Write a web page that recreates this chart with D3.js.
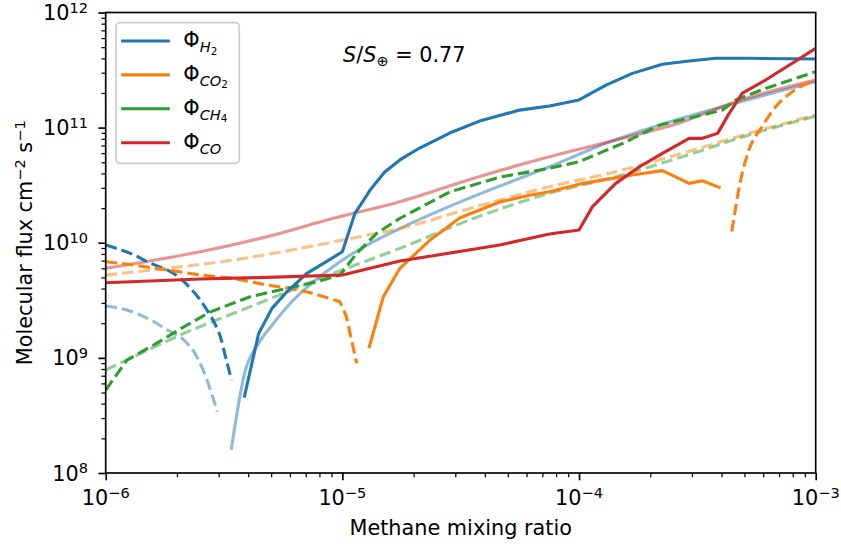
<!DOCTYPE html>
<html><head><meta charset="utf-8">
<script src="https://cdn.jsdelivr.net/npm/d3@7"></script>
<style>
body{margin:0;background:#fff}
svg{display:block}
text{font-family:"DejaVu Sans",sans-serif;fill:#000}
</style>
</head><body>
<svg id="c" width="841" height="550"></svg>
<script>
// ---------- tick labels ----------
const xTicks = [1e-6, 1e-5, 1e-4, 1e-3];
const xTickExp = ["−6", "−5", "−4", "−3"];
const yTicks = [1e8, 1e9, 1e10, 1e11, 1e12];
const yTickExp = ["8", "9", "10", "11", "12"];
const xLabel = "Methane mixing ratio";
const legendNames = [["H", "2"], ["CO", "2"], ["CH", "4"], ["CO", ""]];
const annotation = "0.77";

// ---------- data (methane mixing ratio, molecular flux) ----------
// H2 main (solid)
const h2MainX = [3.86e-6, 4.43e-6, 5.04e-6, 5.83e-6, 7.08e-6, 8.87e-6, 1.0e-5, 1.13e-5, 1.23e-5, 1.31e-5, 1.51e-5, 1.75e-5, 2.12e-5, 2.84e-5, 3.80e-5, 5.61e-5, 7.50e-5, 1.0e-4, 1.30e-4, 1.68e-4, 2.25e-4, 2.92e-4, 3.78e-4, 5.2e-4, 1.0e-3];
const h2MainY = [4.66e8, 1.63e9, 2.69e9, 3.75e9, 5.42e9, 7.18e9, 8.36e9, 1.80e10, 2.35e10, 2.87e10, 4.11e10, 5.24e10, 6.65e10, 8.97e10, 1.14e11, 1.42e11, 1.54e11, 1.74e11, 2.34e11, 2.96e11, 3.55e11, 3.79e11, 4.0e11, 4.0e11, 3.95e11];
// H2 dashed
const h2DashX = [1e-6, 1.32e-6, 1.55e-6, 1.82e-6, 2.07e-6, 2.28e-6, 2.51e-6, 2.68e-6, 2.91e-6, 3.05e-6, 3.21e-6, 3.40e-6];
const h2DashY = [9.55e9, 7.82e9, 6.62e9, 5.80e9, 4.91e9, 4.02e9, 3.18e9, 2.60e9, 1.93e9, 1.53e9, 1.02e9, 6.41e8];
// H2 light solid
const h2LightX = [3.40e-6, 3.86e-6, 4.43e-6, 5.12e-6, 6.21e-6, 7.55e-6, 9.77e-6, 1.27e-5, 1.75e-5, 3.62e-5, 7.50e-5, 1.30e-4, 2.18e-4, 4.04e-4, 1e-3];
const h2LightY = [1.64e8, 7.33e8, 1.34e9, 2.0e9, 3.18e9, 4.58e9, 6.84e9, 9.55e9, 1.33e10, 2.55e10, 4.57e10, 7.31e10, 1.05e11, 1.52e11, 2.5e11];
// H2 light dashed
const h2LightDashX = [1e-6, 1.23e-6, 1.55e-6, 1.82e-6, 2.14e-6, 2.43e-6, 2.68e-6, 2.96e-6];
const h2LightDashY = [2.82e9, 2.60e9, 2.13e9, 1.75e9, 1.43e9, 1.02e9, 6.41e8, 3.40e8];

// CO2 dashed (low methane)
const co2DashX = [1e-6, 1.32e-6, 1.82e-6, 2.51e-6, 3.47e-6, 4.80e-6, 6.02e-6, 7.55e-6, 9.77e-6, 1.04e-5, 1.15e-5];
const co2DashY = [6.84e9, 6.40e9, 5.80e9, 5.24e9, 4.91e9, 4.29e9, 4.02e9, 3.63e9, 3.07e9, 2.28e9, 8.96e8];
// CO2 solid
const co2MainX = [1.30e-5, 1.49e-5, 1.75e-5, 2.34e-5, 3.13e-5, 4.62e-5, 6.18e-5, 7.50e-5, 1.04e-4, 1.68e-4, 2.25e-4, 2.92e-4, 3.32e-4, 3.91e-4];
const co2MainY = [1.25e9, 3.40e9, 6.0e9, 1.05e10, 1.64e10, 2.26e10, 2.59e10, 2.77e10, 3.28e10, 3.87e10, 4.23e10, 3.28e10, 3.46e10, 3.03e10];
// CO2 dashed (high methane)
const co2Dash2X = [4.42e-4, 4.82e-4, 5.22e-4, 5.94e-4, 6.77e-4, 7.96e-4, 1e-3];
const co2Dash2Y = [1.25e10, 3.51e10, 6.38e10, 1.02e11, 1.52e11, 2.05e11, 2.59e11];
// CO2 light dashed
const co2LightDashX = [1e-6, 1.82e-6, 3.47e-6, 6.64e-6, 1.08e-5, 1.75e-5, 3.62e-5, 7.50e-5, 1.43e-4, 2.73e-4, 5.22e-4, 1e-3];
const co2LightDashY = [5.24e9, 6.0e9, 7.08e9, 8.94e9, 1.09e10, 1.33e10, 2.04e10, 3.07e10, 4.14e10, 5.98e10, 8.91e10, 1.29e11];

// CH4 dashed
const ch4DashX = [1e-6, 1.23e-6, 1.55e-6, 2.14e-6, 2.77e-6, 4.08e-6, 5.83e-6, 7.80e-6, 9.77e-6, 1.15e-5, 1.40e-5, 1.75e-5, 2.84e-5, 4.62e-5, 7.50e-5, 1.0e-4, 1.53e-4, 2.18e-4, 4.04e-4, 4.59e-4, 6.14e-4, 1e-3];
const ch4DashY = [5.25e8, 9.57e8, 1.25e9, 1.86e9, 2.51e9, 3.40e9, 4.02e9, 4.58e9, 5.24e9, 8.09e9, 1.21e10, 1.63e10, 2.76e10, 3.72e10, 4.43e10, 5.06e10, 7.30e10, 1.05e11, 1.42e11, 1.74e11, 2.19e11, 3.06e11];
// CH4 light dashed
const ch4LightDashX = [1e-6, 1.40e-6, 2.14e-6, 3.47e-6, 5.64e-6, 9.16e-6, 1.75e-5, 3.62e-5, 7.50e-5, 1.43e-4, 2.73e-4, 5.22e-4, 1e-3];
const ch4LightDashY = [7.84e8, 1.09e9, 1.63e9, 2.44e9, 3.63e9, 5.42e9, 8.94e9, 1.64e10, 2.69e10, 3.74e10, 5.58e10, 8.63e10, 1.26e11];

// CO solid
const coMainX = [1e-6, 2.51e-6, 4.80e-6, 1e-5, 1.75e-5, 4.62e-5, 7.50e-5, 1e-4, 1.14e-4, 1.43e-4, 1.80e-4, 2.25e-4, 2.92e-4, 3.32e-4, 3.85e-4, 4.31e-4, 4.90e-4, 6.14e-4, 7.96e-4, 1e-3];
const coMainY = [4.50e9, 4.84e9, 5.0e9, 5.24e9, 6.93e9, 9.55e9, 1.19e10, 1.29e10, 2.06e10, 3.28e10, 4.57e10, 5.98e10, 8.07e10, 8.07e10, 8.91e10, 1.33e11, 1.99e11, 2.59e11, 3.62e11, 4.89e11];
// CO light solid
const coLightX = [1e-6, 2.51e-6, 4.80e-6, 9.16e-6, 1.75e-5, 3.62e-5, 7.50e-5, 1.43e-4, 2.73e-4, 4.59e-4, 1e-3];
const coLightY = [6.0e9, 8.36e9, 1.13e10, 1.63e10, 2.27e10, 3.65e10, 5.58e10, 7.80e10, 1.12e11, 1.68e11, 2.59e11];

// ---------- layout ----------
const L = 105.7, R = 815.7, T = 12.5, B = 473;
const FS = 20.8;
const colors = {H2: "#1f77b4", CO2: "#ff7f0e", CH4: "#2ca02c", CO: "#d62728"};
const svg = d3.select("#c");
const x = d3.scaleLog().domain([1e-6, 1e-3]).range([L, R]);
const y = d3.scaleLog().domain([1e8, 1e12]).range([B, T]);

svg.append("defs").append("clipPath").attr("id", "clip")
  .append("rect").attr("x", L).attr("y", T).attr("width", R - L).attr("height", B - T);

const smooth = d3.curveMonotoneX, straight = d3.curveLinear;
const lineSpecs = [
  {xs: h2LightX, ys: h2LightY, c: colors.H2, a: 0.5, dash: false, curve: smooth},
  {xs: h2LightDashX, ys: h2LightDashY, c: colors.H2, a: 0.5, dash: true, curve: smooth},
  {xs: co2LightDashX, ys: co2LightDashY, c: colors.CO2, a: 0.5, dash: true, curve: smooth},
  {xs: ch4LightDashX, ys: ch4LightDashY, c: colors.CH4, a: 0.5, dash: true, curve: smooth},
  {xs: coLightX, ys: coLightY, c: colors.CO, a: 0.5, dash: false, curve: smooth},
  {xs: h2DashX, ys: h2DashY, c: colors.H2, a: 1, dash: true, curve: smooth},
  {xs: co2DashX, ys: co2DashY, c: colors.CO2, a: 1, dash: true, curve: straight},
  {xs: co2Dash2X, ys: co2Dash2Y, c: colors.CO2, a: 1, dash: true, curve: smooth},
  {xs: ch4DashX, ys: ch4DashY, c: colors.CH4, a: 1, dash: true, curve: straight},
  {xs: h2MainX, ys: h2MainY, c: colors.H2, a: 1, dash: false, curve: straight},
  {xs: co2MainX, ys: co2MainY, c: colors.CO2, a: 1, dash: false, curve: straight},
  {xs: coMainX, ys: coMainY, c: colors.CO, a: 1, dash: false, curve: straight}
];

const gLines = svg.append("g").attr("clip-path", "url(#clip)");
lineSpecs.forEach(s => {
  const pts = s.xs.map((v, i) => [v, s.ys[i]]);
  const gen = d3.line().x(d => x(d[0])).y(d => y(d[1])).curve(s.curve);
  gLines.append("path").attr("d", gen(pts))
    .attr("fill", "none").attr("stroke", s.c).attr("stroke-opacity", s.a)
    .attr("stroke-width", 3.1).attr("stroke-linejoin", "round")
    .attr("stroke-linecap", s.dash ? "butt" : "square")
    .attr("stroke-dasharray", s.dash ? "11.5,5" : null);
});

// ---------- axes ----------
const isMajor = (v, arr) => arr.some(m => Math.abs(m - v) / m < 1e-6);
const xMinor = x.ticks().filter(v => !isMajor(v, xTicks));
const yMinor = y.ticks().filter(v => !isMajor(v, yTicks));

function styleAxis(g, w) {
  g.select(".domain").remove();
  g.selectAll(".tick line").attr("stroke", "#000").attr("stroke-width", w);
  g.selectAll(".tick text").remove();
}
svg.append("g").attr("transform", `translate(0,${B})`)
  .call(d3.axisBottom(x).tickValues(xTicks).tickSize(7.3).tickFormat(""))
  .call(g => styleAxis(g, 1.67));
svg.append("g").attr("transform", `translate(0,${B})`)
  .call(d3.axisBottom(x).tickValues(xMinor).tickSize(4.2).tickFormat(""))
  .call(g => styleAxis(g, 1.25));
svg.append("g").attr("transform", `translate(${L},0)`)
  .call(d3.axisLeft(y).tickValues(yTicks).tickSize(7.3).tickFormat(""))
  .call(g => styleAxis(g, 1.67));
svg.append("g").attr("transform", `translate(${L},0)`)
  .call(d3.axisLeft(y).tickValues(yMinor).tickSize(4.2).tickFormat(""))
  .call(g => styleAxis(g, 1.25));

// tick labels
xTicks.forEach((v, i) => {
  const t = svg.append("text").attr("x", x(v)).attr("y", 505)
    .attr("text-anchor", "middle").attr("font-size", FS);
  t.append("tspan").text("10");
  t.append("tspan").attr("dy", -7.5).attr("font-size", FS * 0.7).text(xTickExp[i]);
});
yTicks.forEach((v, i) => {
  const t = svg.append("text").attr("x", 88).attr("y", y(v) + 7.5)
    .attr("text-anchor", "end").attr("font-size", FS);
  t.append("tspan").text("10");
  t.append("tspan").attr("dy", -7.5).attr("font-size", FS * 0.7).text(yTickExp[i]);
});

// spines
svg.append("rect").attr("x", L).attr("y", T).attr("width", R - L).attr("height", B - T)
  .attr("fill", "none").attr("stroke", "#000").attr("stroke-width", 1.67);

// axis labels
svg.append("text").attr("x", (L + R) / 2).attr("y", 535).attr("text-anchor", "middle")
  .attr("font-size", FS).text(xLabel);
const yl = svg.append("text").attr("transform", `translate(32,${(T + B) / 2}) rotate(-90)`)
  .attr("text-anchor", "middle").attr("font-size", FS);
yl.append("tspan").text("Molecular flux cm");
yl.append("tspan").attr("dy", -7.5).attr("font-size", FS * 0.7).text("−2");
yl.append("tspan").attr("dy", 7.5).text(" s");
yl.append("tspan").attr("dy", -7.5).attr("font-size", FS * 0.7).text("−1");

// annotation S/S⊕ = 0.77
const an = svg.append("text").attr("x", 343).attr("y", 62).attr("font-size", FS);
an.append("tspan").attr("font-style", "italic").text("S");
an.append("tspan").text("/");
an.append("tspan").attr("font-style", "italic").text("S");
an.append("tspan").attr("dy", 4).attr("font-size", FS * 0.7).text("⊕");
an.append("tspan").attr("dy", -4).text(" = " + annotation);

// legend
const lg = svg.append("g");
lg.append("rect").attr("x", 116).attr("y", 22.7).attr("width", 123.3).attr("height", 140.6)
  .attr("rx", 4).attr("fill", "#fff").attr("fill-opacity", 0.8)
  .attr("stroke", "#cccccc").attr("stroke-width", 1.67);
const legColors = [colors.H2, colors.CO2, colors.CH4, colors.CO];
legendNames.forEach((nm, i) => {
  const cy = 41 + i * 33.9;
  lg.append("line").attr("x1", 122.7).attr("x2", 168.3).attr("y1", cy).attr("y2", cy)
    .attr("stroke", legColors[i]).attr("stroke-width", 3.1).attr("stroke-linecap", "square");
  const t = lg.append("text").attr("x", 183.3).attr("y", cy + 6).attr("font-size", FS);
  t.append("tspan").text("Φ");
  t.append("tspan").attr("dy", 5).attr("font-size", FS * 0.7).attr("font-style", "italic").text(nm[0]);
  if (nm[1]) t.append("tspan").attr("dy", 2.5).attr("font-size", FS * 0.5).text(nm[1]);
});
</script>
</body></html>
